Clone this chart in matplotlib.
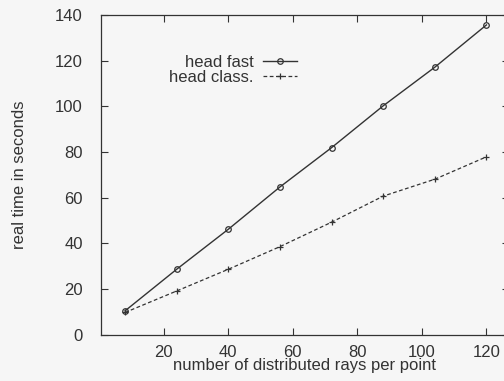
import numpy as np
import matplotlib
matplotlib.use("Agg")
import matplotlib.pyplot as plt

# rays per point and timings
rays = [8, 24, 40, 56, 72, 88, 104, 120]
head_fast = [10.5, 28.7, 46.2, 64.7, 81.9, 100.2, 117.1, 135.6]
head_class = [9.8, 19.2, 28.7, 38.6, 49.3, 60.7, 68.1, 77.9]
xticks = [20, 40, 60, 80, 100, 120]
yticks = [0, 20, 40, 60, 80, 100, 120, 140]

plt.rcParams['font.family'] = ['Liberation Sans', 'DejaVu Sans']
ink = '#333333'

fig = plt.figure(figsize=(5.04, 3.81), dpi=100, facecolor='#f6f6f6')
ax = fig.add_axes([0.2, 0.121, 0.81, 0.84])
ax.set_facecolor('#f6f6f6')

ax.plot(rays, head_fast, '-', color=ink, lw=1.0, marker='o', ms=4,
        mfc='none', mec=ink, mew=0.9, label='head fast')
ax.plot(rays, head_class, '--', color=ink, lw=0.9, dashes=(3, 2), marker='+',
        ms=5, mec=ink, mew=0.9, label='head class.')

ax.set_xlim(0.5, 127)
ax.set_ylim(0, 140)
ax.set_xticks(xticks)
ax.set_yticks(yticks)
ax.tick_params(direction='in', top=True, right=True, length=5, width=0.8,
               colors=ink, labelsize=12)
ax.tick_params(axis='y', pad=13)
ax.tick_params(axis='x', pad=7)
for s in ax.spines.values():
    s.set_color(ink)
    s.set_linewidth(0.9)

ax.set_xlabel('number of distributed rays per point', fontsize=12,
              color=ink, labelpad=-1)
ax.set_ylabel('real time in seconds', fontsize=12, color=ink, labelpad=20)

leg = ax.legend(loc='upper right', bbox_to_anchor=(0.5, 0.9),
                frameon=False, markerfirst=False, fontsize=12,
                handlelength=2.0, handletextpad=0.6, labelspacing=0.0,
                borderpad=0)
for t in leg.get_texts():
    t.set_color(ink)
    t.set_ha('right')

fig.savefig('out.png', dpi=100, facecolor=fig.get_facecolor())
